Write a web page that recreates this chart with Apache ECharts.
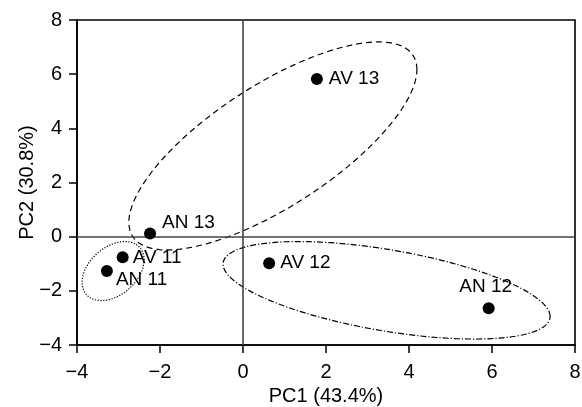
<!DOCTYPE html>
<html>
<head>
<meta charset="utf-8">
<script src="https://cdn.jsdelivr.net/npm/echarts@6/dist/echarts.min.js"></script>
<style>html,body{margin:0;padding:0;background:#fff}#c{width:582px;height:407px}</style>
</head>
<body>
<div id="c"></div>
<script>
// ---- data ----
const sampleLabels = ['AN 13', 'AV 11', 'AN 11', 'AV 12', 'AN 12', 'AV 13'];
const pc1Values = [-2.24, -2.90, -3.28, 0.63, 5.92, 1.78];
const pc2Values = [0.12, -0.76, -1.27, -0.98, -2.64, 5.82];
const xTicks = [-4, -2, 0, 2, 4, 6, 8];
const yTicks = [-4, -2, 0, 2, 4, 6, 8];
const xAxisTitle = 'PC1 (43.4%)';
const yAxisTitle = 'PC2 (30.8%)';
// group ellipses: centre, half extents along x / y, correlation
const ellipseCx = [0.72, -3.13, 3.46];
const ellipseCy = [3.35, -1.27, -1.98];
const ellipseRx = [3.47, 0.747, 3.94];
const ellipseRy = [3.84, 1.089, 1.80];
const ellipseRho = [0.734, 0.38, -0.536];

// ---- chart ----
const FONT = 'Liberation Sans, Arial, sans-serif';
const chart = echarts.init(document.getElementById('c'), null, {renderer: 'canvas'});

const labelLayout = {
  'AN 13': {position: 'right', offset: [1, -11]},
  'AV 11': {position: 'right', offset: [-1, 1]},
  'AN 11': {position: 'right', offset: [-2, 9]},
  'AV 12': {position: 'right', offset: [0, 0]},
  'AN 12': {position: 'top', offset: [-3, -1]},
  'AV 13': {position: 'right', offset: [1, 0]}
};

const points = sampleLabels.map((name, i) => ({
  name: name,
  value: [pc1Values[i], pc2Values[i]],
  label: Object.assign({show: true, formatter: '{b}'}, labelLayout[name])
}));

const ellipseData = ellipseCx.map((cx, i) => [cx, ellipseCy[i], ellipseRx[i], ellipseRy[i], ellipseRho[i]]);
const ellipseDash = [[6, 4], [1.2, 1.6], [6, 2, 1.2, 2]];

function ellipseSeries(idx) {
  return {
    type: 'custom',
    silent: true,
    z: 3,
    data: [ellipseData[idx]],
    renderItem: function (params, api) {
      const cx = api.value(0), cy = api.value(1), rx = api.value(2), ry = api.value(3), rho = api.value(4);
      const s = Math.sqrt(1 - rho * rho);
      const pts = [];
      const N = 180;
      for (let k = 0; k <= N; k++) {
        const t = 2 * Math.PI * k / N;
        const x = cx + rx * Math.cos(t);
        const y = cy + ry * (rho * Math.cos(t) + s * Math.sin(t));
        pts.push(api.coord([x, y]));
      }
      return {
        type: 'polyline',
        shape: {points: pts},
        style: {fill: null, stroke: '#000', lineWidth: 1.2, lineDash: ellipseDash[idx]}
      };
    }
  };
}

const axisCommon = {
  type: 'value',
  nameLocation: 'middle',
  nameMoveOverlap: false,
  nameTextStyle: {fontFamily: FONT, fontSize: 20, color: '#000'},
  axisLine: {show: true, onZero: false, lineStyle: {color: '#000', width: 1.6}},
  axisTick: {show: true, inside: false, length: 8, lineStyle: {color: '#000', width: 1.5}},
  splitLine: {show: false},
  axisLabel: {
    fontFamily: FONT, fontSize: 20, color: '#000', hideOverlap: false,
    formatter: v => String(v).replace('-', '\u2212')
  }
};

chart.setOption({
  animation: false,
  backgroundColor: '#fff',
  grid: {
    left: 77, top: 20, right: 7, bottom: 62,
    containLabel: false, outerBoundsMode: 'none',
    show: true, borderColor: '#000', borderWidth: 1.6, backgroundColor: 'transparent'
  },
  xAxis: Object.assign({}, axisCommon, {
    min: xTicks[0], max: xTicks[xTicks.length - 1], interval: xTicks[1] - xTicks[0],
    name: xAxisTitle, nameGap: 41,
    axisLabel: Object.assign({}, axisCommon.axisLabel, {margin: 17})
  }),
  yAxis: Object.assign({}, axisCommon, {
    min: yTicks[0], max: yTicks[yTicks.length - 1], interval: yTicks[1] - yTicks[0],
    name: yAxisTitle, nameGap: 40,
    axisLabel: Object.assign({}, axisCommon.axisLabel, {margin: 15})
  }),
  series: [
    {
      type: 'scatter',
      z: 5,
      symbol: 'circle',
      symbolSize: 12,
      itemStyle: {color: '#000', opacity: 1},
      label: {fontFamily: FONT, fontSize: 19, color: '#000'},
      data: points,
      markLine: {
        silent: true,
        symbol: ['none', 'none'],
        label: {show: false},
        lineStyle: {color: '#444', width: 1.6, type: 'solid'},
        data: [{xAxis: 0}, {yAxis: 0}]
      }
    },
    ellipseSeries(0),
    ellipseSeries(1),
    ellipseSeries(2)
  ]
});
</script>
</body>
</html>
